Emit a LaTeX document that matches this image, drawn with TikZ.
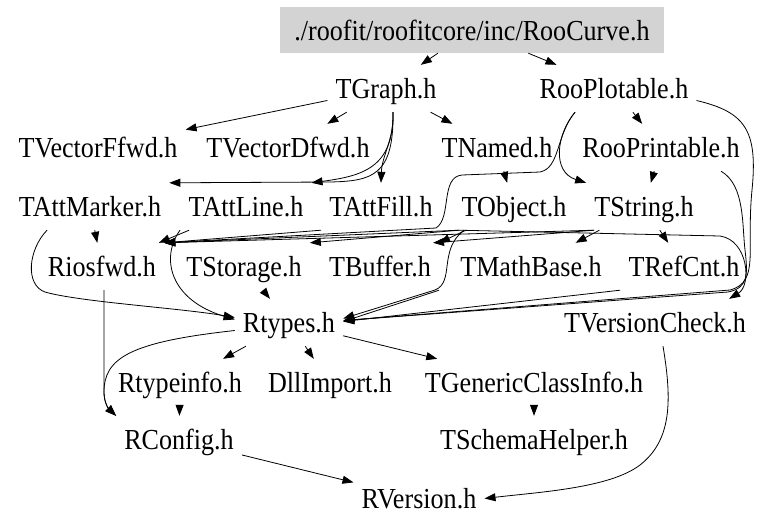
\documentclass[tikz,border=0pt]{standalone}
\usepackage{fontspec}
\setmainfont{Liberation Serif}[FakeStretch=0.9]
\usetikzlibrary{arrows.meta}
\definecolor{rootgray}{RGB}{211,211,211}
\begin{document}
\begin{tikzpicture}[x=1pt,y=-1pt,
  lbl/.style={font=\fontsize{29}{34}\selectfont, text height=25pt, text depth=6pt, inner ysep=8pt, inner xsep=8pt, anchor=base},
  edge/.style={draw=black, line width=0.8pt, -{Triangle[length=11pt,width=8pt]}}]
\useasboundingbox (0,0) rectangle (775,528);
\node[fill=rootgray, minimum width=384pt, minimum height=46pt, inner sep=0pt, font=\fontsize{29}{34}\selectfont] (root) at (472,30) {./roofit/roofitcore/inc/RooCurve.h};
\node[lbl] (TGraph) at (386,98) {TGraph.h};
\node[lbl] (RooPlotable) at (614,98) {RooPlotable.h};
\node[lbl] (TVectorFfwd) at (98,157) {TVectorFfwd.h};
\node[lbl] (TVectorDfwd) at (288,157) {TVectorDfwd.h};
\node[lbl] (TNamed) at (497,157) {TNamed.h};
\node[lbl] (RooPrintable) at (661,157) {RooPrintable.h};
\node[lbl] (TAttMarker) at (90,216) {TAttMarker.h};
\node[lbl] (TAttLine) at (246,216) {TAttLine.h};
\node[lbl] (TAttFill) at (381,216) {TAttFill.h};
\node[lbl] (TObject) at (514,216) {TObject.h};
\node[lbl] (TString) at (644,216) {TString.h};
\node[lbl] (Riosfwd) at (102,276) {Riosfwd.h};
\node[lbl] (TStorage) at (244,276) {TStorage.h};
\node[lbl] (TBuffer) at (380,276) {TBuffer.h};
\node[lbl] (TMathBase) at (531,276) {TMathBase.h};
\node[lbl] (TRefCnt) at (684,276) {TRefCnt.h};
\node[lbl] (Rtypes) at (289,332) {Rtypes.h};
\node[lbl] (TVersionCheck) at (655,332) {TVersionCheck.h};
\node[lbl] (Rtypeinfo) at (180,392) {Rtypeinfo.h};
\node[lbl] (DllImport) at (330,392) {DllImport.h};
\node[lbl] (TGenericClassInfo) at (534,392) {TGenericClassInfo.h};
\node[lbl] (RConfig) at (179,449) {RConfig.h};
\node[lbl] (TSchemaHelper) at (534,449) {TSchemaHelper.h};
\node[lbl] (RVersion) at (419,508) {RVersion.h};

\draw[edge] (root) -- (TGraph);
\draw[edge] (root) -- (RooPlotable);
\draw[edge] (TGraph) -- (TVectorFfwd);
\draw[edge] (TGraph) -- (TVectorDfwd);
\draw[edge] (TGraph) -- (TNamed);
\draw[edge] ([xshift=7pt]TGraph.south) .. controls (394,140) and (382,155) .. (TAttFill.north);
\draw[edge] ([xshift=7pt]TGraph.south) .. controls (394,168) and (362,176) .. (TAttLine.north east);
\draw[edge] ([xshift=7pt]TGraph.south) .. controls (394,176) and (372,181) .. (330,182) -- (TAttMarker.north east);
\draw[edge] (RooPlotable) -- (RooPrintable);
\draw[edge] ([xshift=-39pt]RooPlotable.south) .. controls (556,135) and (552,172) .. (TString.north west);
\draw[edge] ([xshift=-39pt]RooPlotable.south) .. controls (556,135) and (560,168) .. (540,172) -- (462,175) .. controls (440,177) and (452,218) .. (436,228) -- (Riosfwd.north east);
\draw[edge] (TNamed) -- (TObject);
\draw[edge] (RooPrintable) -- (TString);
\draw[edge] ([yshift=-12pt]RooPlotable.east) .. controls (745,112) and (758,130) .. (752,190) .. controls (746,250) and (760,282) .. (730,290) -- ([yshift=2pt]Rtypes.east);
\draw[edge] ([xshift=60pt]RooPrintable.south) .. controls (745,185) and (742,225) .. (745,250) .. controls (748,275) and (748,288) .. (728,292) -- ([yshift=2pt]Rtypes.east);
\draw[edge] ([xshift=-55pt]TObject.south) -- (720,236) .. controls (748,240) and (752,285) .. ([xshift=-25pt]TVersionCheck.north east);
\draw[edge] (TString) -- (TMathBase);
\draw[edge] (TString) -- (TRefCnt);
\draw[edge] (TAttMarker) -- (Riosfwd);
\draw[edge] ([xshift=-43pt]TAttMarker.south) .. controls (28,250) and (25,285) .. (45,292) .. controls (80,302) and (180,308) .. ([yshift=5pt]Rtypes.west);
\draw[edge] ([xshift=-66pt]TAttLine.south) .. controls (160,258) and (170,300) .. ([yshift=3pt]Rtypes.west);
\draw[edge] (TAttLine) -- (Riosfwd);
\draw[edge] ([xshift=-60pt]TAttFill.south) -- (Riosfwd.north east);
\draw[edge] ([xshift=-55pt]TObject.south) -- (Riosfwd.north east);
\draw[edge] ([xshift=-50pt]TString.south) -- (Riosfwd.north east);
\draw[edge] ([xshift=-55pt]TObject.south) -- (TStorage.north east);
\draw[edge] ([xshift=-48pt]TObject.south) -- (TBuffer.north east);
\draw[edge] ([xshift=-50pt]TString.south) -- ([xshift=-6pt]TBuffer.north east);
\draw[edge] ([xshift=-50pt]TObject.south) .. controls (438,250) and (455,282) .. (435,290) -- ([yshift=4pt]Rtypes.east);
\draw[edge] (TBuffer.south east) -- ([yshift=1pt]Rtypes.east);
\draw[edge] ([xshift=-64pt]TRefCnt.south) -- ([yshift=1pt]Rtypes.east);
\draw[edge] (TStorage) -- (Rtypes);
\draw[edge] (Rtypes) -- (Rtypeinfo);
\draw[edge] (Rtypes) -- (DllImport);
\draw[edge] (Rtypes) -- (TGenericClassInfo);
\draw[edge] ([yshift=-8pt]Rtypes.west) .. controls (130,342) and (104,358) .. (104,392) .. controls (104,402) and (108,408) .. (RConfig.north west);
\draw[edge] ([xshift=2pt]Riosfwd.south) -- (104,392) .. controls (104,402) and (108,408) .. (RConfig.north west);
\draw[edge] (Rtypeinfo) -- (RConfig);
\draw[edge] (TGenericClassInfo) -- (TSchemaHelper);
\draw[edge] (RConfig) -- (RVersion);
\draw[edge] ([xshift=8pt]TVersionCheck.south) .. controls (672,400) and (672,440) .. (640,465) .. controls (610,488) and (540,492) .. (RVersion.east);
\end{tikzpicture}
\end{document}
